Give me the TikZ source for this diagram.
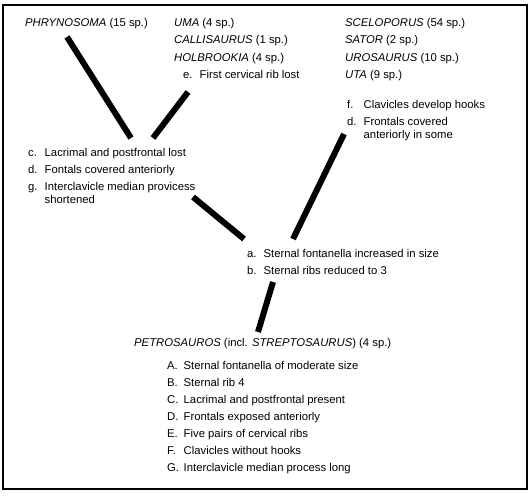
\documentclass[tikz,border=0pt]{standalone}
\usepackage{fontspec}
\setmainfont{Liberation Sans}
\newcommand{\trait}[2]{\begin{tabular}[t]{@{}p{16.5pt}@{}l@{}}#1&#2\end{tabular}}
\tikzset{
  txt/.style={anchor=base west, inner sep=0pt, font=\fontsize{11.3}{13}\selectfont},
  branch/.style={line width=6pt},
}
\begin{document}
\begin{tikzpicture}[x=1pt,y=-1pt]
\useasboundingbox (0,0) rectangle (532,495);
\draw[line width=2.5pt] (3,5) rectangle (527,489);
% taxa
\node[txt] (phr) at (25,27) {\textit{PHRYNOSOMA} (15 sp.)};
\node[txt] (uma) at (174,27) {\textit{UMA} (4 sp.)};
\node[txt] (cal) at (174,44) {\textit{CALLISAURUS} (1 sp.)};
\node[txt] (hol) at (174,61) {\textit{HOLBROOKIA} (4 sp.)};
\node[txt] (scel) at (345,27) {\textit{SCELOPORUS} (54 sp.)};
\node[txt] (sat) at (345,44) {\textit{SATOR} (2 sp.)};
\node[txt] (uro) at (345,61) {\textit{UROSAURUS} (10 sp.)};
\node[txt] (uta) at (345,78) {\textit{UTA} (9 sp.)};
\node[txt] (pet) at (134,346) {\textit{PETROSAUROS} (incl. \textit{STREPTOSAURUS}) (4 sp.)};
% derived traits
\node[txt] (e) at (183,78) {\trait{e.}{First cervical rib lost}};
\node[txt] (f) at (347,108) {\trait{f.}{Clavicles develop hooks}};
\node[txt] (dr) at (347,125) {\trait{d.}{Frontals covered\\&anteriorly in some}};
\node[txt] (c) at (28,156) {\trait{c.}{Lacrimal and postfrontal lost}};
\node[txt] (dl) at (28,173) {\trait{d.}{Fontals covered anteriorly}};
\node[txt] (g) at (28,190) {\trait{g.}{Interclavicle median provicess\\&shortened}};
\node[txt] (a) at (247,257) {\trait{a.}{Sternal fontanella increased in size}};
\node[txt] (b) at (247,274) {\trait{b.}{Sternal ribs reduced to 3}};
% primitive traits
\node[txt] (A) at (167,369) {\trait{A.}{Sternal fontanella of moderate size}};
\node[txt] (B) at (167,386) {\trait{B.}{Sternal rib 4}};
\node[txt] (C) at (167,403) {\trait{C.}{Lacrimal and postfrontal present}};
\node[txt] (D) at (167,420) {\trait{D.}{Frontals exposed anteriorly}};
\node[txt] (E) at (167,437) {\trait{E.}{Five pairs of cervical ribs}};
\node[txt] (F) at (167,454) {\trait{F.}{Clavicles without hooks}};
\node[txt] (G) at (167,471) {\trait{G.}{Interclavicle median process long}};
% branch ends
\coordinate (phrlo) at (67,37);
\coordinate (umalo) at (188,92);
\coordinate (cleft) at (131,138);
\coordinate (cright) at (153,138);
\coordinate (glo) at (193,197);
\coordinate (scello) at (344,134);
\coordinate (aleft) at (244,239);
\coordinate (aright) at (293,239);
\coordinate (blo) at (273,282);
\coordinate (pethi) at (258,332);
\draw[branch] (phrlo) -- (cleft);
\draw[branch] (umalo) -- (cright);
\draw[branch] (glo) -- (aleft);
\draw[branch] (scello) -- (aright);
\draw[branch] (blo) -- (pethi);
\end{tikzpicture}
\end{document}
